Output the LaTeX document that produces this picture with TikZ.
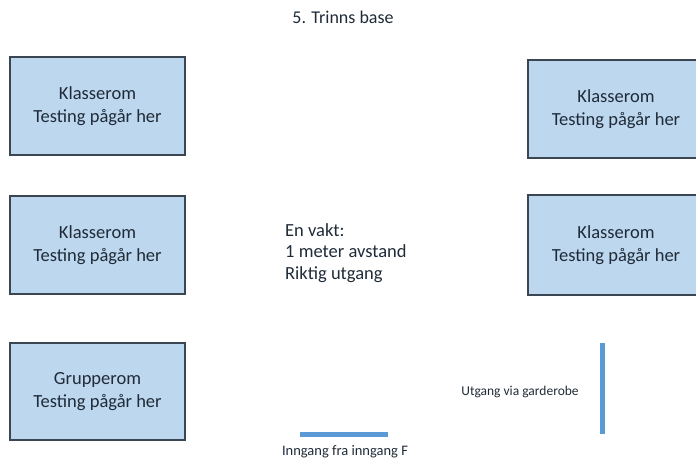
\documentclass[tikz,border=0pt]{standalone}
\usepackage{fontspec}
\setmainfont{Carlito}
\definecolor{roomfill}{HTML}{BDD7EE}
\definecolor{roomline}{HTML}{3B4653}
\definecolor{roomtext}{HTML}{1F2B38}
\definecolor{doorblue}{HTML}{5B9BD5}
\begin{document}
\begin{tikzpicture}[x=1pt,y=-1pt]
\tikzstyle{room} = [rectangle, draw=roomline, fill=roomfill, line width=1.3pt, text=roomtext, align=center, minimum width=175pt, minimum height=98pt, inner sep=0pt, font=\fontsize{18.5}{22.5}\selectfont]
\tikzstyle{door} = [doorblue, line width=5pt]
\tikzstyle{note} = [text=roomtext, inner sep=0pt, font=\fontsize{13.5}{16}\selectfont]

\useasboundingbox (0,0) rectangle (696,460);

\node at (343,17) [text=roomtext, font=\fontsize{18}{21}\selectfont] (title) {5. Trinns base};

% rom til venstre
\node at (97.5,106) [room] (K1) {Klasserom\\Testing pågår her};
\node at (97.5,245) [room] (K2) {Klasserom\\Testing pågår her};
\node at (97.5,391.5) [room, minimum height=97pt] (G1) {Grupperom\\Testing pågår her};

% rom til hoyre, kuttet av kanten
\node at (616,109) [room, minimum width=176pt] (K3) {Klasserom\\Testing pågår her};
\node at (616,245) [room, minimum width=176pt, minimum height=100pt] (K4) {Klasserom\\Testing pågår her};

\node at (285,253) [anchor=west, align=left, text=roomtext, inner sep=0pt, font=\fontsize{18.5}{21.5}\selectfont] (vakt) {En vakt:\\1 meter avstand\\Riktig utgang};

\coordinate (inA) at (300,434);
\coordinate (inB) at (388,434);
\draw[door] (inA) -- (inB);
\node at (345,452) [note, font=\fontsize{14.5}{17}\selectfont] (inn) {Inngang fra inngang F};

\coordinate (utA) at (602,343);
\coordinate (utB) at (602,434);
\draw[door] (utA) -- (utB);
\node at (520,392) [note] (ut) {Utgang via garderobe};

\end{tikzpicture}
\end{document}
